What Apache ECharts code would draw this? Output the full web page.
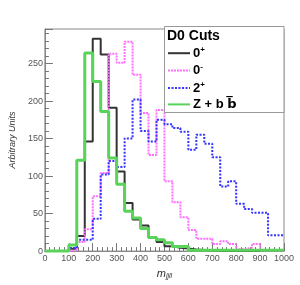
<!DOCTYPE html>
<html><head><meta charset="utf-8">
<script src="https://cdn.jsdelivr.net/npm/echarts@6/dist/echarts.min.js"></script>
<style>html,body{margin:0;padding:0;background:#fff}#c{width:300px;height:285px}</style>
</head><body><div id="c"></div>
<script>
// histogram range and binning
const xMin = 0, xMax = 1000;
const xTicks = [0,100,200,300,400,500,600,700,800,900,1000];
const yTicks = [0,50,100,150,200,250];
const yMax = 296;
// bin contents (30 bins of width 33.3)
const spin0p = [0,0,0,3,20,146,283,262,191,106,64,42,34,18,12,6.5,4.4,3.5,2,1.5,1,0.5,0,0,0,0,0,0,0,0];
const spin0m = [0,0,0,1,12,29,73,104,263,251,279,235,184,128,188,93,65,45,28,16.5,16.5,9.6,13,9.6,2.5,4.5,9.6,0,0,0];
const spin2p = [0,0,0,4,15,15,43,102,120,112,150,202,160,146,175,169,164,159,135,155,143,125,86,93,63,56,51,51,21,21];
const zbb    = [0,0,0,8,121,264,226,186,124,89,53,44,30,18,15,11,6,6,1,1,1,1,1,1,1,1,1,1,1,1];
const names = ['0+','0-','2+','Zbb'];

function steps(vals){
  const w = (xMax - xMin) / vals.length;
  const pts = vals.map((v,i)=>[xMin + i*w, v]);
  pts.push([xMax, vals[vals.length-1]]);
  return pts;
}
function ser(name, vals, color, width, type){
  return {name, type:'line', step:'end', data:steps(vals), symbol:'none', clip:false,
    lineStyle:{color, width, type}, itemStyle:{color}, animation:false};
}
const chart = echarts.init(document.getElementById('c'), null, {renderer:'canvas'});
chart.setOption({
  animation:false,
  grid:{left:43, right:16, top:29, bottom:28, show:true, borderColor:'#888', borderWidth:1, backgroundColor:'transparent'},
  xAxis:{type:'value', min:xMin, max:xMax, interval:100,
    axisLine:{show:true, lineStyle:{color:'#888', width:1}},
    axisTick:{show:true, inside:true, length:8, lineStyle:{color:'#777'}},
    minorTick:{show:true, splitNumber:5, length:4, lineStyle:{color:'#777'}},
    splitLine:{show:false},
    axisLabel:{color:'#555', fontSize:9, margin:3, fontFamily:'Liberation Sans',
      formatter:v=>xTicks.includes(v)?String(v):''},
    name:'{m|m}{s|jjll}', nameLocation:'middle', nameGap:8,
    nameTextStyle:{rich:{m:{fontSize:11, fontStyle:'italic', color:'#333', fontFamily:'Liberation Sans'},
                         s:{fontSize:7, fontStyle:'italic', color:'#333', fontFamily:'Liberation Sans', padding:[6,0,0,0]}}}
  },
  yAxis:{type:'value', min:0, max:yMax, interval:50,
    axisLine:{show:true, lineStyle:{color:'#888', width:1}},
    axisTick:{show:true, inside:true, length:8, lineStyle:{color:'#777'}},
    minorTick:{show:true, splitNumber:5, length:4, lineStyle:{color:'#777'}},
    splitLine:{show:false},
    axisLabel:{color:'#555', fontSize:9, margin:2, fontFamily:'Liberation Sans', showMaxLabel:false,
      formatter:v=>yTicks.includes(v)?String(v):''},
    name:'Arbitrary Units', nameLocation:'middle', nameGap:23,
    nameTextStyle:{fontSize:9, fontStyle:'italic', color:'#333', fontFamily:'Liberation Sans'}
  },
  legend:{orient:'vertical', left:167, top:45.7, padding:0, itemWidth:22, itemHeight:10, itemGap:3.4,
    data:names, z:20, inactiveColor:'#ccc', itemStyle:{opacity:0},
    textStyle:{fontSize:13, fontWeight:'bold', color:'#000', fontFamily:'Liberation Sans', padding:[0,0,0,-2],
      rich:{b:{fontSize:13, fontWeight:'bold', color:'#000', fontFamily:'Liberation Sans'},
            bb:{fontSize:13, fontWeight:'bold', color:'#000', fontFamily:'DejaVu Sans'},
            sup:{fontSize:8, fontWeight:'bold', color:'#000', fontFamily:'Liberation Sans', padding:[0,0,7,0]}}},
    formatter:function(n){
      if(n==='0+') return '{b|0}{sup|+}';
      if(n==='0-') return '{b|0}{sup|-}';
      if(n==='2+') return '{b|2}{sup|+}';
      return '{b|Z + b }{bb|b\u0305}';
    }
  },
  graphic:[
    {type:'rect', z:10, shape:{x:164.5, y:26.5, width:119.5, height:86}, style:{fill:'#fff', stroke:'#999', lineWidth:1}},
    {type:'text', z:11, left:167, top:29, style:{text:'D0 Cuts', font:'bold 14px "Liberation Sans"', fill:'#000'}}
  ],
  series:[
    ser('0+', spin0p, '#333333', 2, 'solid'),
    ser('0-', spin0m, '#ff70ff', 2, [2,1]),
    ser('2+', spin2p, '#3434ff', 2, [2,1.5]),
    ser('Zbb', zbb, '#5ad35a', 3, 'solid')
  ]
});
</script></body></html>
